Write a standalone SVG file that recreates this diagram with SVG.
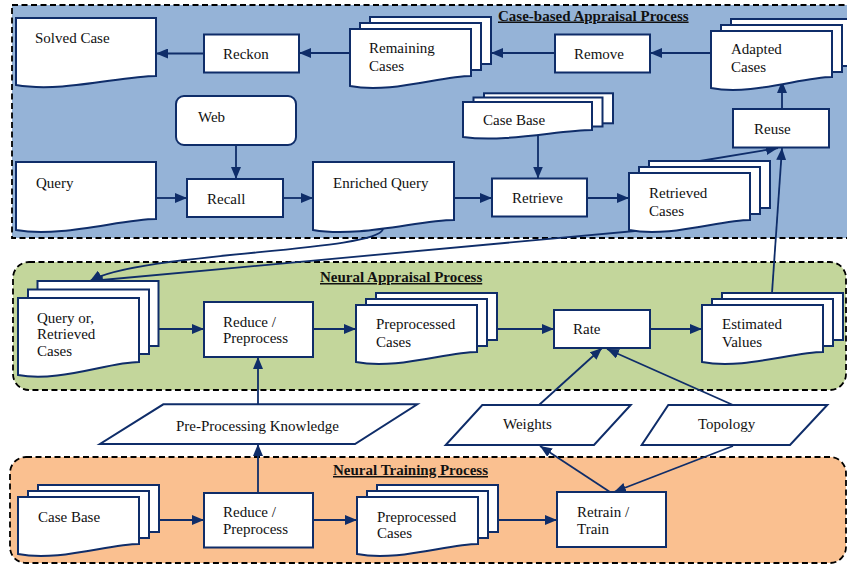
<svg xmlns="http://www.w3.org/2000/svg" width="847" height="565" viewBox="0 0 847 565">
<defs>
<marker id="ah" markerUnits="userSpaceOnUse" markerWidth="13" markerHeight="10" refX="12" refY="5" orient="auto" viewBox="0 0 13 10"><path d="M0,0L12,5L0,10z" fill="#0F2D69"/></marker>
</defs>
<style>
.c{stroke:#000;stroke-width:1.8;stroke-dasharray:6 3.5}
.n{fill:#fff;stroke:#0F2D69;stroke-width:2}
.t{font-family:"Liberation Serif","Times New Roman",serif;font-size:15px;fill:#111}
.h{font-family:"Liberation Serif","Times New Roman",serif;font-size:15px;font-weight:bold;text-decoration:underline;fill:#111}
.e{fill:none;stroke:#0F2D69;stroke-width:1.8;marker-end:url(#ah)}
</style>
<g id="containers">
<rect class="c" x="12" y="5" width="845" height="233" fill="#95B3D7"/>
<rect class="c" x="13" y="262" width="833" height="128" rx="16" fill="#C3D69B"/>
<rect class="c" x="10" y="457" width="836" height="106" rx="16" fill="#FAC090"/>
<text class="h" x="498" y="20.5">Case-based Appraisal Process</text>
<text class="h" x="320" y="282">Neural Appraisal Process</text>
<text class="h" x="333" y="475">Neural Training Process</text>
</g>
<g id="connectors">
<line class="e" x1="350" y1="53" x2="299" y2="53"/>
<line class="e" x1="204" y1="53.5" x2="156" y2="53.5"/>
<line class="e" x1="555" y1="53" x2="491" y2="53"/>
<line class="e" x1="711" y1="53" x2="650" y2="53"/>
<line class="e" x1="782" y1="109" x2="782" y2="81"/>
<line class="e" x1="236" y1="145" x2="236" y2="179"/>
<line class="e" x1="156" y1="198" x2="187" y2="198"/>
<line class="e" x1="283" y1="198" x2="313" y2="198"/>
<line class="e" x1="454" y1="198" x2="492" y2="198"/>
<line class="e" x1="538" y1="132" x2="538" y2="178.5"/>
<line class="e" x1="587" y1="198" x2="629" y2="198"/>
<line class="e" x1="700" y1="161" x2="778" y2="148"/>
<line class="e" x1="772" y1="293" x2="782" y2="148"/>
<path class="e" d="M383,229C378,252 140,252 90,281"/>
<line class="e" x1="690" y1="226" x2="91" y2="281"/>
<line class="e" x1="158" y1="329" x2="204" y2="329"/>
<line class="e" x1="313" y1="329" x2="356" y2="329"/>
<line class="e" x1="497" y1="329" x2="554" y2="329"/>
<line class="e" x1="650" y1="329" x2="702" y2="329"/>
<line class="e" x1="258" y1="404" x2="258" y2="357"/>
<line class="e" x1="258" y1="493" x2="258" y2="444"/>
<line class="e" x1="539" y1="405" x2="602" y2="348"/>
<line class="e" x1="733" y1="405" x2="607" y2="349"/>
<line class="e" x1="610" y1="492" x2="540" y2="446"/>
<line class="e" x1="733" y1="446" x2="614" y2="492"/>
<line class="e" x1="158" y1="520" x2="204" y2="520"/>
<line class="e" x1="313" y1="520" x2="357" y2="520"/>
<line class="e" x1="497" y1="520" x2="557" y2="520"/>
</g>
<g id="solved-case">
<path class="n" d="M16,18H156V76C121,76 62,93 16,85Z"/>
<text class="t" x="35" y="43">Solved Case</text>
</g>
<g id="reckon">
<rect class="n" x="204" y="34.5" width="95" height="38"/>
<text class="t" x="223" y="59">Reckon</text>
</g>
<g id="remaining-cases">
<rect class="n" x="370" y="17" width="121" height="47"/>
<rect class="n" x="360" y="23" width="121" height="47"/>
<path class="n" d="M350,29H471V76C440.75,76 390,94 350,86Z"/>
<text class="t" x="369" y="53">Remaining<tspan x="369" y="71">Cases</tspan></text>
</g>
<g id="remove">
<rect class="n" x="555" y="34.5" width="95" height="38"/>
<text class="t" x="574" y="59">Remove</text>
</g>
<g id="adapted-cases">
<rect class="n" x="731" y="19" width="121" height="47"/>
<rect class="n" x="721" y="25" width="121" height="47"/>
<path class="n" d="M711,31H832V77C801.75,77 751,96 711,88Z"/>
<text class="t" x="731" y="54">Adapted<tspan x="731" y="72">Cases</tspan></text>
</g>
<g id="web">
<rect class="n" x="176" y="96" width="120" height="49" rx="8"/>
<text class="t" x="198" y="122">Web</text>
</g>
<g id="case-base-top">
<rect class="n" x="484" y="93.3" width="129" height="30"/>
<rect class="n" x="473.5" y="97.5" width="129" height="29"/>
<path class="n" d="M463,102H592V130C559.75,130 505.6,143 463,137Z"/>
<text class="t" x="483" y="125">Case Base</text>
</g>
<g id="reuse">
<rect class="n" x="733" y="109" width="96" height="38.5"/>
<text class="t" x="754" y="134">Reuse</text>
</g>
<g id="query">
<path class="n" d="M16,162H156V219C121,219 62,238 16,230Z"/>
<text class="t" x="36" y="188">Query</text>
</g>
<g id="recall">
<rect class="n" x="187" y="179" width="96" height="38"/>
<text class="t" x="207" y="204">Recall</text>
</g>
<g id="enriched-query">
<path class="n" d="M313,162H454V220C419,220 360,238 313,230Z"/>
<text class="t" x="333" y="188">Enriched Query</text>
</g>
<g id="retrieve">
<rect class="n" x="492" y="178.5" width="95" height="38"/>
<text class="t" x="512" y="203">Retrieve</text>
</g>
<g id="retrieved-cases">
<rect class="n" x="649" y="161" width="121" height="47"/>
<rect class="n" x="639" y="167" width="121" height="47"/>
<path class="n" d="M629,173H750V220C719.75,220 669,238 629,230Z"/>
<text class="t" x="649" y="198">Retrieved<tspan x="649" y="215.5">Cases</tspan></text>
</g>
<g id="query-or-retrieved">
<rect class="n" x="37.5" y="281" width="121" height="65"/>
<rect class="n" x="28" y="289.5" width="121" height="64.5"/>
<path class="n" d="M18,298H139V362C108.75,362 58,383 18,375Z"/>
<text class="t" x="37" y="322.5">Query or,<tspan x="37" y="339.3">Retrieved</tspan><tspan x="37" y="356">Cases</tspan></text>
</g>
<g id="reduce-mid">
<rect class="n" x="204" y="302" width="109" height="55"/>
<text class="t" x="223" y="326.7">Reduce /<tspan x="223" y="343.3">Preprocess</tspan></text>
</g>
<g id="preprocessed-mid">
<rect class="n" x="376" y="293" width="121" height="47"/>
<rect class="n" x="366" y="299" width="121" height="47"/>
<path class="n" d="M356,305H477V352C446.75,352 396,370 356,362Z"/>
<text class="t" x="376" y="329.3">Preprocessed<tspan x="376" y="346.7">Cases</tspan></text>
</g>
<g id="rate">
<rect class="n" x="554" y="310" width="96" height="38"/>
<text class="t" x="573" y="334.3">Rate</text>
</g>
<g id="estimated-values">
<rect class="n" x="722" y="293" width="121" height="47"/>
<rect class="n" x="712" y="299" width="121" height="47"/>
<path class="n" d="M702,305H823V352C792.75,352 742,370 702,362Z"/>
<text class="t" x="722" y="329.3">Estimated<tspan x="722" y="346.7">Values</tspan></text>
</g>
<g id="pre-processing-knowledge">
<path class="n" d="M163.3,404.3H417.3L355,444H100Z"/>
<text class="t" x="176" y="431.3">Pre-Processing Knowledge</text>
</g>
<g id="weights">
<path class="n" d="M482.3,405H630.7L594,445H445.7Z"/>
<text class="t" x="503" y="429.3">Weights</text>
</g>
<g id="topology">
<path class="n" d="M668.3,405H827.3L790,445H641.7Z"/>
<text class="t" x="698" y="429.3">Topology</text>
</g>
<g id="case-base-bottom">
<rect class="n" x="38" y="485" width="121" height="47"/>
<rect class="n" x="28" y="491" width="121" height="47"/>
<path class="n" d="M18,497H139V544C108.75,544 58,562 18,554Z"/>
<text class="t" x="38" y="521.7">Case Base</text>
</g>
<g id="reduce-bottom">
<rect class="n" x="204" y="493" width="109" height="54.5"/>
<text class="t" x="223" y="517.3">Reduce /<tspan x="223" y="534.3">Preprocess</tspan></text>
</g>
<g id="preprocessed-bottom">
<rect class="n" x="377" y="485" width="121" height="47"/>
<rect class="n" x="367" y="491" width="121" height="47"/>
<path class="n" d="M357,497H478V544C447.75,544 397,562 357,554Z"/>
<text class="t" x="377" y="521.7">Preprocessed<tspan x="377" y="538">Cases</tspan></text>
</g>
<g id="retrain">
<rect class="n" x="557" y="492" width="109" height="55"/>
<text class="t" x="577" y="516.7">Retrain /<tspan x="577" y="534">Train</tspan></text>
</g>
</svg>
